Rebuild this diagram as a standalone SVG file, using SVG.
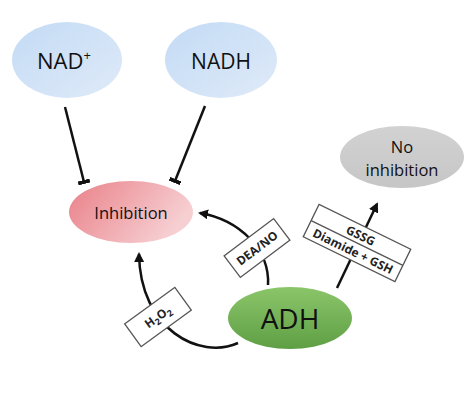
<svg xmlns="http://www.w3.org/2000/svg" width="474" height="406" viewBox="0 0 474 406">
<defs>
<linearGradient id="gBlue" x1="0" y1="0" x2="1" y2="1"><stop offset="0" stop-color="#c3dbf5"/><stop offset="1" stop-color="#dfeaf8"/></linearGradient>
<linearGradient id="gPink" x1="0" y1="0" x2="1" y2="0.4"><stop offset="0" stop-color="#e98088"/><stop offset="1" stop-color="#f6cfd2"/></linearGradient>
<linearGradient id="gGreen" x1="0" y1="0" x2="0" y2="1"><stop offset="0" stop-color="#8bc56a"/><stop offset="1" stop-color="#5f9f44"/></linearGradient>
<linearGradient id="gGray" x1="0" y1="0" x2="0" y2="1"><stop offset="0" stop-color="#d2d2d2"/><stop offset="1" stop-color="#c6c6c6"/></linearGradient>
<marker id="arrow" viewBox="0 0 10 10" refX="8" refY="5" markerWidth="4" markerHeight="4" orient="auto" markerUnits="strokeWidth">
<path d="M0,0 L10,5 L0,10 z" fill="#111"/>
</marker>
<marker id="tbar" viewBox="0 0 4 12" refX="2" refY="6" markerWidth="1.6" markerHeight="4.8" orient="auto" markerUnits="strokeWidth">
<rect x="0" y="0" width="4" height="12" fill="#111"/>
</marker>
</defs>
<style>
.lbl{font-family:"Open Sans","Liberation Sans",sans-serif;fill:#111;text-anchor:middle}
.box{fill:#fff;stroke:#555;stroke-width:1.3}
.btxt{font-family:"Open Sans","Liberation Sans",sans-serif;font-weight:bold;font-size:12px;fill:#222;text-anchor:middle}
.edge{fill:none;stroke:#111;stroke-width:2.5}
</style>
<g id="nodes">
<g id="nadplus"><ellipse cx="67" cy="60" rx="55" ry="38" fill="url(#gBlue)"/><text class="lbl" x="64" y="69" font-size="22">NAD<tspan font-size="13" dy="-9">+</tspan></text></g>
<g id="nadh"><ellipse cx="221" cy="60" rx="56" ry="38" fill="url(#gBlue)"/><text class="lbl" x="221" y="69" font-size="21">NADH</text></g>
<g id="noinhibition"><ellipse cx="402" cy="157" rx="62" ry="31" fill="url(#gGray)"/><text class="lbl" x="402" y="153" font-size="16.5">No</text><text class="lbl" x="402" y="176" font-size="16.5">inhibition</text></g>
<g id="inhibition"><ellipse cx="131" cy="212" rx="62" ry="31" fill="url(#gPink)"/><text class="lbl" x="131" y="219" font-size="16.5" fill="#3a1a1a">Inhibition</text></g>
<g id="adh"><ellipse cx="290" cy="318" rx="62" ry="31" fill="url(#gGreen)"/><text class="lbl" x="290" y="329" font-size="28" fill="#111">ADH</text></g>
</g>
<g id="connectors">
<line class="edge" x1="65" y1="107" x2="84" y2="182" marker-end="url(#tbar)"/>
<line class="edge" x1="205" y1="106" x2="175" y2="181" marker-end="url(#tbar)"/>
<path class="edge" d="M268,285 C270,250 240,220 200,213" marker-end="url(#arrow)"/>
<path class="edge" d="M238,343 C200,360 140,330 139,254" marker-end="url(#arrow)"/>
<line class="edge" x1="337" y1="288" x2="377" y2="204" marker-end="url(#arrow)"/>
</g>
<g id="labels">
<g id="deano" transform="translate(257,248) rotate(-37)"><rect class="box" x="-31" y="-13.5" width="62" height="27"/><text class="btxt" x="0" y="4.5">DEA/NO</text></g>
<g id="h2o2" transform="translate(158,317) rotate(-36)"><rect class="box" x="-31" y="-14" width="62" height="28"/><text class="btxt" x="0" y="4">H<tspan font-size="9" dy="3">2</tspan><tspan dy="-3">O</tspan><tspan font-size="9" dy="3">2</tspan></text></g>
<g id="gssg" transform="translate(357,243) rotate(26)"><rect class="box" x="-51" y="-18" width="102" height="36"/><line x1="-51" y1="0" x2="51" y2="0" stroke="#555" stroke-width="1.3"/><text class="btxt" x="0" y="-4">GSSG</text><text class="btxt" x="0" y="13.5">Diamide + GSH</text></g>
</g>
</svg>
